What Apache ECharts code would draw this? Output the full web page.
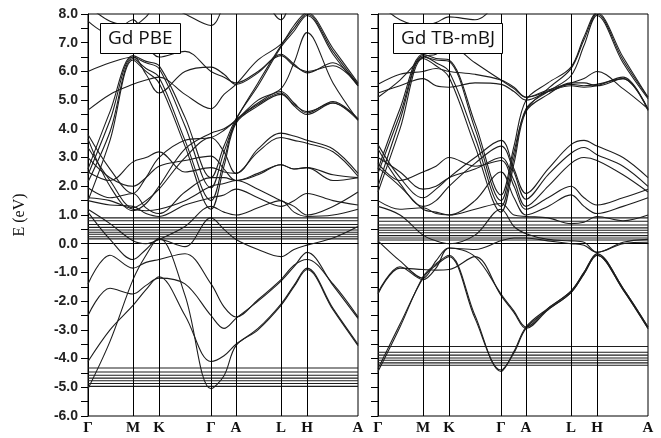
<!DOCTYPE html>
<html>
<head>
<meta charset="utf-8">
<script src="https://cdn.jsdelivr.net/npm/echarts@6/dist/echarts.min.js"></script>
<style>
  html, body { margin: 0; padding: 0; background: #fff; }
  #chart { width: 661px; height: 438px; }
</style>
</head>
<body>
<div id="chart"></div>
<script>
// high symmetry points along the path (same path for both panels)
var kPos = [0, 45, 71, 123, 148, 193, 219, 270];
var kNames = ['Γ', 'M', 'K', 'Γ', 'A', 'L', 'H', 'A'];
// k positions where band energies were read
var kSample = [0, 22, 45, 58, 71, 97, 123, 136, 148, 170, 193, 206, 219, 245, 270];

// ---- Gd PBE ----
var pbeValence = [
    [-5.05, -3.4, -1.25, -0.4, 0.2, -1.8, -5.05, -4.6, -3.55, -3.0, -2.15, -1.5, -0.9, -2.3, -3.55],
    [-4.1, -3.0, -2.15, -1.6, -1.15, -2.5, -4.1, -3.9, -3.5, -2.95, -2.1, -1.45, -0.85, -2.25, -3.5],
    [-2.5, -1.55, -1.75, -1.45, -1.2, -1.4, -2.5, -2.95, -2.6, -2.0, -1.3, -0.8, -0.3, -1.45, -2.6],
    [-1.4, -0.4, -0.85, -0.65, -0.55, -0.35, -1.4, -2.2, -2.55, -1.95, -1.25, -0.75, -0.55, -1.4, -2.55],
    [1.1, 0.15, -0.55, -0.2, 0.15, -0.1, 0.9, 0.5, 0.15, -0.2, -0.45, -0.2, -0.05, 0.2, 0.6]
];
var pbeConduction = [
    [1.2, 0.7, 0.1, 0.0, 0.15, 0.6, 1.3, 1.1, 1.0, 1.25, 1.5, 1.1, 0.95, 1.0, 1.2],
    [1.5, 1.35, 1.3, 1.05, 0.95, 1.35, 1.6, 1.7, 1.9, 1.6, 1.3, 1.5, 1.75, 1.5, 1.35],
    [1.95, 1.6, 1.75, 1.25, 1.05, 1.8, 2.3, 2.3, 2.2, 2.4, 2.75, 2.6, 2.65, 2.2, 2.3],
    [1.6, 1.5, 1.2, 1.15, 1.2, 1.5, 2.0, 2.1, 2.2, 1.9, 1.5, 1.3, 1.0, 1.3, 1.8],
    [2.15, 3.9, 6.45, 6.1, 5.8, 3.6, 1.5, 2.9, 4.25, 4.85, 5.25, 4.8, 4.5, 4.9, 4.3],
    [2.4, 4.3, 6.5, 6.3, 6.1, 4.1, 1.95, 3.2, 4.3, 5.6, 6.9, 7.5, 8.0, 6.7, 5.55],
    [1.5, 3.6, 6.4, 6.0, 5.6, 3.4, 1.2, 2.7, 4.2, 4.8, 5.2, 4.85, 4.6, 4.9, 4.35],
    [2.6, 4.6, 6.55, 6.35, 6.2, 4.4, 2.3, 3.4, 4.35, 5.5, 6.85, 7.4, 7.95, 6.6, 5.5],
    [2.5, 2.2, 2.85, 3.0, 3.2, 2.5, 2.65, 2.5, 2.45, 3.3, 3.85, 3.75, 3.6, 3.3, 2.45],
    [3.0, 2.3, 2.0, 2.3, 2.7, 2.9, 3.05, 2.6, 2.2, 2.45, 2.75, 2.6, 2.65, 2.4, 2.3],
    [3.35, 2.2, 1.25, 1.5, 1.9, 3.0, 3.7, 3.2, 2.45, 3.2, 3.7, 3.6, 3.5, 3.2, 2.35],
    [3.65, 2.0, 1.15, 1.4, 2.0, 3.3, 3.85, 4.0, 4.3, 5.0, 5.4, 6.3, 7.35, 5.6, 4.3],
    [3.8, 2.6, 1.75, 2.3, 3.0, 3.6, 3.7, 3.95, 4.3, 4.9, 5.3, 4.9, 4.55, 4.95, 4.35],
    [4.65, 5.2, 5.55, 5.7, 5.8, 5.2, 4.7, 5.2, 5.55, 6.4, 6.95, 7.6, 8.05, 6.8, 5.6],
    [6.0, 6.3, 6.5, 5.9, 5.25, 6.0, 6.15, 5.9, 5.55, 5.95, 6.6, 6.25, 5.95, 6.3, 5.5],
    [7.75, 7.3, 7.8, 7.0, 6.5, 6.7, 6.0, 5.8, 5.6, 6.0, 6.55, 6.2, 6.0, 6.2, 5.55],
    [8.3, 7.75, 7.6, 7.9, 8.4, 8.0, 7.6, 8.3, 9.0, 8.8, 7.8, 8.8, 9.2, 9.2, 9.2]
];
var pbeFlatF = [-4.33, -4.47, -4.58, -4.68, -4.77, -4.87, -4.97];
var pbeFlatFermi = [0.9, 0.8, 0.67, 0.57, 0.48, 0.4, 0.33, 0.24, 0.17];

// ---- Gd TB-mBJ ----
var mbjValence = [
    [-4.35, -2.8, -1.2, -0.75, -0.45, -2.6, -4.4, -3.8, -2.95, -2.3, -1.7, -1.05, -0.4, -1.6, -2.95],
    [-4.45, -2.9, -1.15, -0.7, -0.4, -2.5, -4.45, -3.75, -2.9, -2.25, -1.65, -1.0, -0.35, -1.55, -2.9],
    [-1.75, -0.85, -0.9, -0.92, -0.9, -0.45, -1.8, -2.4, -2.95, -2.3, -1.7, -1.05, -0.4, -1.6, -2.95],
    [-1.7, -0.8, -1.25, -0.85, -0.15, -0.45, -1.75, -2.35, -2.9, -2.25, -1.65, -1.0, -0.35, -1.55, -2.9],
    [0.1, -0.6, -1.2, -0.6, -0.15, -0.2, 0.1, 0.2, 0.2, 0.1, 0.0, -0.05, -0.3, 0.0, 0.05]
];
var mbjConduction = [
    [2.0, 4.3, 6.5, 6.4, 6.35, 4.0, 1.5, 3.2, 4.65, 5.4, 6.1, 7.1, 8.0, 6.4, 5.1],
    [2.45, 4.5, 6.55, 6.3, 6.0, 3.7, 1.3, 3.0, 4.7, 5.3, 5.85, 6.9, 7.95, 6.3, 5.05],
    [1.8, 4.0, 6.45, 6.2, 5.8, 3.4, 1.1, 2.8, 4.6, 5.2, 5.6, 5.6, 5.5, 5.75, 4.7],
    [2.6, 4.7, 6.6, 6.45, 6.4, 4.2, 1.7, 3.4, 5.0, 5.6, 6.15, 7.2, 8.05, 6.5, 5.1],
    [3.45, 2.3, 1.6, 1.9, 2.3, 3.0, 3.6, 2.6, 1.75, 2.6, 3.45, 3.6, 3.4, 3.0, 2.3],
    [3.3, 2.1, 1.3, 1.5, 2.0, 2.8, 3.4, 2.5, 1.55, 2.4, 3.15, 3.35, 3.1, 2.7, 2.0],
    [3.0, 2.5, 1.9, 2.0, 2.3, 2.6, 3.0, 2.2, 1.3, 2.0, 2.8, 3.0, 2.9, 2.4, 1.8],
    [2.8, 2.2, 2.5, 2.7, 3.0, 2.7, 2.9, 2.0, 1.2, 1.6, 2.0, 1.6, 1.35, 1.6, 1.9],
    [2.65, 2.0, 1.2, 1.1, 1.0, 1.5, 2.5, 1.6, 1.0, 1.3, 1.7, 1.3, 1.05, 1.3, 1.6],
    [1.5, 1.2, 1.25, 1.05, 1.0, 1.2, 1.4, 1.0, 0.95, 0.9, 0.7, 0.75, 0.95, 0.8, 1.0],
    [1.3, 1.0, 0.3, 0.1, 0.0, 0.3, 1.2, 0.6, 0.35, 0.15, 0.1, 0.05, -0.3, 0.05, 0.15],
    [5.55, 5.9, 6.0, 6.1, 6.0, 5.9, 5.7, 5.45, 5.1, 5.3, 5.5, 5.45, 5.5, 5.8, 4.65],
    [5.25, 5.5, 5.75, 5.5, 5.45, 5.6, 5.55, 5.3, 5.0, 5.3, 5.6, 5.75, 6.0, 5.4, 4.7],
    [5.1, 5.7, 6.5, 6.6, 6.9, 6.3, 5.7, 5.4, 5.1, 5.35, 5.55, 5.5, 5.55, 5.75, 4.65],
    [8.4, 7.8, 7.6, 7.7, 7.9, 7.8, 8.6, 9.2, 9.5, 9.5, 9.5, 9.5, 9.5, 9.5, 9.5]
];
var mbjFlatF = [-3.58, -3.78, -3.88, -3.98, -4.06, -4.15, -4.23];
var mbjFlatFermi = [0.9, 0.78, 0.65, 0.55, 0.47, 0.38, 0.28, 0.2, 0.13];

var lineColor = '#1e1e1e';

function bandSeries(values, g) {
    return {
        type: 'line',
        xAxisIndex: g,
        yAxisIndex: g,
        data: kSample.map(function (k, i) { return [k, values[i]]; }),
        smooth: 0.35,
        symbol: 'none',
        silent: true,
        clip: true,
        lineStyle: { color: lineColor, width: 1.1 }
    };
}

function flatSeries(level, g) {
    return {
        type: 'line',
        xAxisIndex: g,
        yAxisIndex: g,
        data: [[kPos[0], level], [kPos[kPos.length - 1], level]],
        symbol: 'none',
        silent: true,
        lineStyle: { color: lineColor, width: 1.1 }
    };
}

function kLines() {
    return {
        silent: true,
        symbol: ['none', 'none'],
        label: { show: false },
        lineStyle: { color: '#000', type: 'solid', width: 1 },
        data: kPos.slice(1, -1).map(function (v) { return { xAxis: v }; })
    };
}

var series = [];
[[pbeValence, pbeConduction, pbeFlatF, pbeFlatFermi, 0],
 [mbjValence, mbjConduction, mbjFlatF, mbjFlatFermi, 1]].forEach(function (p) {
    var g = p[4];
    var first = series.length;
    p[0].concat(p[1]).forEach(function (b) { series.push(bandSeries(b, g)); });
    p[2].concat(p[3]).forEach(function (v) { series.push(flatSeries(v, g)); });
    series[first].markLine = kLines();
});

function xAxisFor(g) {
    return {
        type: 'value',
        gridIndex: g,
        min: 0,
        max: 270,
        axisLine: { show: true, lineStyle: { color: '#000' } },
        axisTick: { show: false },
        splitLine: { show: false },
        axisLabel: {
            customValues: kPos,
            formatter: function (v) { return kNames[kPos.indexOf(v)]; },
            margin: 5,
            fontFamily: 'Liberation Serif',
            fontWeight: 'bold',
            fontSize: 15,
            color: '#111'
        }
    };
}

function yAxisFor(g) {
    return {
        type: 'value',
        gridIndex: g,
        min: -6,
        max: 8,
        interval: 1,
        axisLine: { show: true, lineStyle: { color: '#000' } },
        axisTick: { show: true, length: 7, lineStyle: { color: '#000' } },
        minorTick: { show: true, splitNumber: 2, length: 7, lineStyle: { color: '#000' } },
        splitLine: { show: false },
        axisLabel: {
            show: g === 0,
            formatter: function (v) { return v.toFixed(1); },
            margin: 10,
            fontFamily: 'Liberation Sans',
            fontWeight: 'bold',
            fontSize: 14,
            color: '#222'
        },
        name: g === 0 ? 'E (eV)' : '',
        nameLocation: 'middle',
        nameGap: 60,
        nameRotate: 90,
        nameTextStyle: { fontFamily: 'Liberation Serif', fontSize: 16, color: '#111' }
    };
}

var titleStyle = { fontFamily: 'Open Sans', fontSize: 19, fontWeight: 'normal', color: '#111' };

var option = {
    animation: false,
    backgroundColor: '#fff',
    title: [
        { text: 'Gd PBE', left: 100, top: 23, padding: [6, 8], borderColor: '#000', borderWidth: 1,
          backgroundColor: '#fff', textStyle: titleStyle },
        { text: 'Gd TB-mBJ', left: 393, top: 23, padding: [6, 8], borderColor: '#000', borderWidth: 1,
          backgroundColor: '#fff', textStyle: titleStyle }
    ],
    grid: [
        { left: 88, top: 14, width: 270, height: 402, show: true, borderColor: '#000', borderWidth: 1 },
        { left: 378, top: 14, width: 270, height: 402, show: true, borderColor: '#000', borderWidth: 1 }
    ],
    xAxis: [xAxisFor(0), xAxisFor(1)],
    yAxis: [yAxisFor(0), yAxisFor(1)],
    series: series
};

var chart = echarts.init(document.getElementById('chart'));
chart.setOption(option);
</script>
</body>
</html>
